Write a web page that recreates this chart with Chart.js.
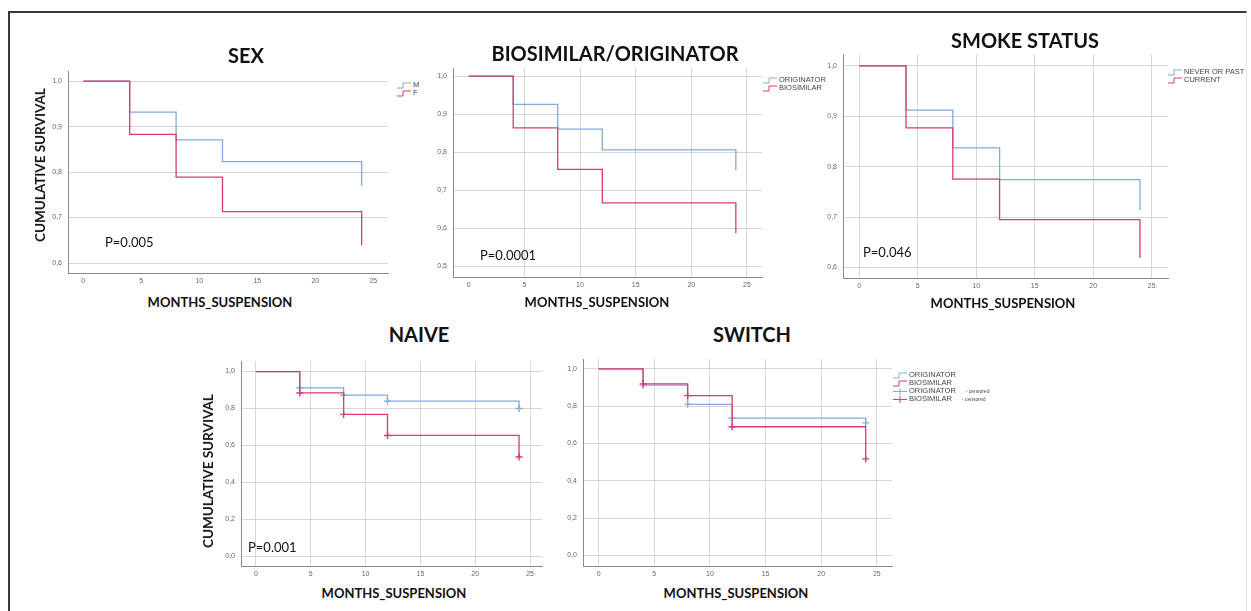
<!DOCTYPE html>
<html>
<head>
<meta charset="utf-8">
<script src="https://cdn.jsdelivr.net/npm/chart.js@4.4.1/dist/chart.umd.min.js"></script>
<style>
  body { margin: 0; background: #fff; width: 1251px; height: 611px; overflow: hidden; position: relative; font-family: Lato, "Open Sans", sans-serif; }
  .frame { position: absolute; left: 8px; top: 11px; width: 1236px; height: 640px; border-left: 2px solid #3a3a3a; border-top: 2px solid #3a3a3a; border-right: 1px solid #e6e6e6; }
  canvas { position: absolute; }
  .t { position: absolute; white-space: nowrap; transform: translate(-50%, -50%); color: #111; }
  .title { font-weight: 700; font-size: 20px; }
  .axlab { font-weight: 700; font-size: 13px; }
  .ylab { font-weight: 700; font-size: 13.5px; transform: translate(-50%, -50%) rotate(-90deg); }
  .pval { position: absolute; font-size: 13px; color: #111; transform: translateY(-50%); }
  .leg { position: absolute; font-family: "Liberation Sans", Arial, sans-serif; font-size: 7.5px; color: #444; line-height: 1; }
  .leg div { height: 8px; display: flex; align-items: center; white-space: nowrap; }
  .leg svg { margin-right: 2px; }
  .cens { font-size: 5px; margin-left: 10px; }
</style>
</head>
<body>
<div class="frame"></div>

<canvas id="pSex"></canvas>
<canvas id="pBio"></canvas>
<canvas id="pSmoke"></canvas>
<canvas id="pNaive"></canvas>
<canvas id="pSwitch"></canvas>

<div class="t title" style="left:246px; top:55px;">SEX</div>
<div class="t title" style="left:615px; top:53px;">BIOSIMILAR/ORIGINATOR</div>
<div class="t title" style="left:1025px; top:40px;">SMOKE STATUS</div>
<div class="t title" style="left:419px; top:334px;">NAIVE</div>
<div class="t title" style="left:752px; top:334px;">SWITCH</div>

<div class="t ylab" style="left:40px; top:165px;">CUMULATIVE SURVIVAL</div>
<div class="t ylab" style="left:208px; top:471px;">CUMULATIVE SURVIVAL</div>

<div class="t axlab" style="left:220px; top:302px;">MONTHS_SUSPENSION</div>
<div class="t axlab" style="left:597px; top:302px;">MONTHS_SUSPENSION</div>
<div class="t axlab" style="left:1003px; top:303px;">MONTHS_SUSPENSION</div>
<div class="t axlab" style="left:394px; top:593px;">MONTHS_SUSPENSION</div>
<div class="t axlab" style="left:736px; top:593px;">MONTHS_SUSPENSION</div>

<div class="pval" style="left:105px; top:242px;">P=0.005</div>
<div class="pval" style="left:480px; top:255px;">P=0.0001</div>
<div class="pval" style="left:863px; top:252px;">P=0.046</div>
<div class="pval" style="left:248px; top:547px;">P=0.001</div>

<div class="leg" id="legSex" style="left:397px; top:81px;"></div>
<div class="leg" id="legBio" style="left:763px; top:76px;"></div>
<div class="leg" id="legSmoke" style="left:1168px; top:68px;"></div>
<div class="leg" id="legSwitch" style="left:893px; top:371px;"></div>

<script>
// survival estimates read at each event time
const months = [0, 4, 8, 12, 24];
const xTicks = [0, 5, 10, 15, 20, 25];

const sexM = [1.0, 0.932, 0.871, 0.823, 0.770];
const sexF = [1.0, 0.883, 0.789, 0.713, 0.639];

const bioOriginator = [1.0, 0.926, 0.861, 0.806, 0.753];
const bioBiosimilar = [1.0, 0.864, 0.755, 0.667, 0.587];

const smokeNever = [1.0, 0.912, 0.837, 0.774, 0.714];
const smokeCurrent = [1.0, 0.877, 0.775, 0.695, 0.619];

const naiveOriginator = [1.0, 0.912, 0.872, 0.840, 0.800];
const naiveBiosimilar = [1.0, 0.884, 0.768, 0.654, 0.537];

const switchOriginator = [1.0, 0.913, 0.810, 0.736, 0.711];
const switchBiosimilar = [1.0, 0.920, 0.857, 0.690, 0.518];

const yTicksSex = [0.6, 0.7, 0.8, 0.9, 1.0];
const yTicksBio = [0.5, 0.6, 0.7, 0.8, 0.9, 1.0];
const yTicksFull = [0.0, 0.2, 0.4, 0.6, 0.8, 1.0];

const BLUE = '#82aadb';
const RED = '#da3a6c';
const GRID = '#d6d6d6';
const AXIS = '#8a8a8a';

function series(vals, color, order, censored) {
    return {
        data: months.map((m, i) => ({x: m, y: vals[i]})),
        showLine: true,
        stepped: true,
        borderColor: color,
        backgroundColor: color,
        borderWidth: 1.3,
        order: order,
        pointStyle: 'cross',
        pointBorderWidth: 1.4,
        pointRadius: censored ? months.map((m, i) => i == 0 ? 0 : 3.5) : 0,
        pointHoverRadius: 0
    };
}

// box = chart area in page pixels
function makePanel(id, box, xMin, xMax, yMin, yMax, yTicks, vGrid, datasets) {
    let cv = document.getElementById(id);
    let padL = 30, padT = 4, padR = 4, padB = 18;
    cv.width = box.r - box.l + padL + padR;
    cv.height = box.b - box.t + padT + padB;
    cv.style.left = (box.l - padL) + 'px';
    cv.style.top = (box.t - padT) + 'px';

    return new Chart(cv.getContext('2d'), {
        type: 'scatter',
        data: {datasets: datasets},
        options: {
            responsive: false,
            animation: false,
            devicePixelRatio: 1,
            layout: {padding: {left: 0, top: padT, right: padR, bottom: 0}},
            plugins: {legend: {display: false}, tooltip: {enabled: false}},
            scales: {
                x: {
                    type: 'linear',
                    min: xMin,
                    max: xMax,
                    afterBuildTicks: s => { s.ticks = xTicks.map(v => ({value: v})); },
                    afterFit: s => { s.height = padB; },
                    grid: {
                        display: vGrid != 'none',
                        drawTicks: false,
                        color: c => (vGrid == 'noZero' && c.tick && c.tick.value == 0) ? 'rgba(0,0,0,0)' : GRID
                    },
                    border: {display: true, color: AXIS, width: 1},
                    ticks: {padding: 4, color: '#666', font: {family: 'Liberation Sans', size: 7}}
                },
                y: {
                    type: 'linear',
                    min: yMin,
                    max: yMax,
                    afterBuildTicks: s => { s.ticks = yTicks.map(v => ({value: v})); },
                    afterFit: s => { s.width = padL; },
                    grid: {drawTicks: false, color: GRID},
                    border: {display: true, color: AXIS, width: 1},
                    ticks: {
                        padding: 6,
                        color: '#666',
                        font: {family: 'Liberation Sans', size: 7},
                        callback: v => v.toFixed(1).replace('.', ',')
                    }
                }
            }
        }
    });
}

makePanel('pSex', {l: 68, t: 65, r: 388, b: 273}, -1.32, 26.27, 0.578, 1.022, yTicksSex, 'none',
    [series(sexM, BLUE, 2, false), series(sexF, RED, 1, false)]);
makePanel('pBio', {l: 453, t: 62, r: 762, b: 277}, -1.41, 26.35, 0.472, 1.021, yTicksBio, 'noZero',
    [series(bioOriginator, BLUE, 2, false), series(bioBiosimilar, RED, 1, false)]);
makePanel('pSmoke', {l: 843, t: 48, r: 1168, b: 278}, -1.39, 26.4, 0.579, 1.023, yTicksSex, 'all',
    [series(smokeNever, BLUE, 2, false), series(smokeCurrent, RED, 1, false)]);
makePanel('pNaive', {l: 241, t: 355, r: 543, b: 566}, -1.36, 26.1, -0.053, 1.056, yTicksFull, 'all',
    [series(naiveOriginator, BLUE, 2, true), series(naiveBiosimilar, RED, 1, true)]);
makePanel('pSwitch', {l: 583, t: 353, r: 893, b: 566}, -1.4, 26.37, -0.056, 1.052, yTicksFull, 'all',
    [series(switchOriginator, BLUE, 2, true), series(switchBiosimilar, RED, 1, true)]);

// SPSS style legends
function stepIcon(color) {
    return '<svg width="14" height="7"><path d="M0 6 H6 V1 H14" fill="none" stroke="' + color + '" stroke-width="1"/></svg>';
}
function crossIcon(color) {
    return '<svg width="14" height="7"><path d="M0 3.5 H14 M7 0 V7" fill="none" stroke="' + color + '" stroke-width="1"/></svg>';
}
function legend(id, items) {
    document.getElementById(id).innerHTML = items.map(it =>
        '<div>' + it.icon + '<span>' + it.label + '</span>' + (it.extra ? '<span class="cens">' + it.extra + '</span>' : '') + '</div>'
    ).join('');
}
legend('legSex', [{icon: stepIcon(BLUE), label: 'M'}, {icon: stepIcon(RED), label: 'F'}]);
legend('legBio', [{icon: stepIcon(BLUE), label: 'ORIGINATOR'}, {icon: stepIcon(RED), label: 'BIOSIMILAR'}]);
legend('legSmoke', [{icon: stepIcon(BLUE), label: 'NEVER OR PAST'}, {icon: stepIcon(RED), label: 'CURRENT'}]);
legend('legSwitch', [
    {icon: stepIcon(BLUE), label: 'ORIGINATOR'},
    {icon: stepIcon(RED), label: 'BIOSIMILAR'},
    {icon: crossIcon(BLUE), label: 'ORIGINATOR', extra: '- censored'},
    {icon: crossIcon(RED), label: 'BIOSIMILAR', extra: '- censored'}
]);
</script>
</body>
</html>
